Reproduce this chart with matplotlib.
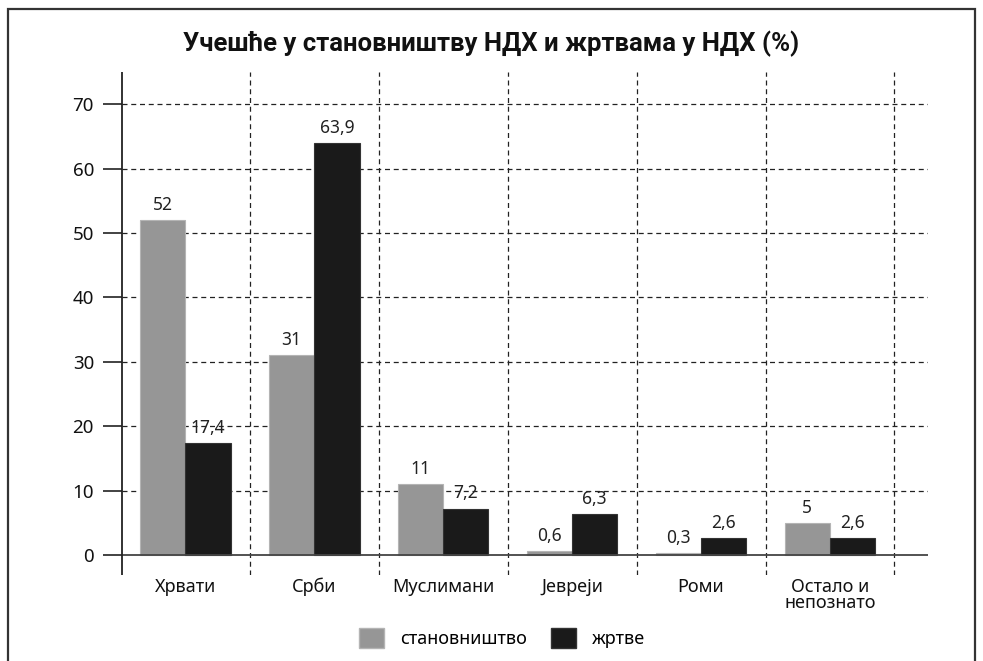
import matplotlib
matplotlib.use("Agg")
import matplotlib.pyplot as plt
from matplotlib.patches import Rectangle, Patch
import numpy as np

plt.rcParams["font.family"] = ["Noto Sans", "DejaVu Sans"]

categories = ["Хрвати", "Срби", "Муслимани", "Јевреји", "Роми", "Остало и\nнепознато"]
population = [52, 31, 11, 0.6, 0.3, 5]
victims = [17.4, 63.9, 7.2, 6.3, 2.6, 2.6]
series_names = ["становништво", "жртве"]
yticks = [0, 10, 20, 30, 40, 50, 60, 70]
title = "Учешће у становништву НДХ и жртвама у НДХ (%)"

GREY = "#969696"
BLACK = "#1a1a1a"
W = 0.352

def fmt(v):
    return f"{v:g}".replace(".", ",")

fig = plt.figure(figsize=(9.83, 6.61), dpi=100)
# axes: left 103px, right 928px, top 72px, bottom 575px
ax = fig.add_axes([103 / 983, 1 - 575 / 661, (928 - 103) / 983, (575 - 72) / 661])
x = np.arange(len(categories))
ax_x = -0.49
ax.set_xlim(-0.637, 5.76)
ax.set_ylim(-3.1, 75)

# grid
for t in yticks[1:]:
    ax.plot([ax_x, 5.76], [t, t], ls=(0, (4, 3)), color="#222", lw=0.9, zorder=1)
for xs in x + 0.5:
    ax.plot([xs, xs], [-3.1, 75], ls=(0, (4, 3)), color="#222", lw=0.9, zorder=1)
for t in yticks:
    ax.plot([-0.637, ax_x], [t, t], color="#222", lw=1.2, zorder=3, solid_capstyle="butt")
ax.plot([ax_x, 5.76], [0, 0], color="#444", lw=1.3, zorder=3)
ax.plot([ax_x, ax_x], [-3.1, 75], color="#222", lw=1.3, zorder=3)

b1 = ax.bar(x - W / 2, population, W, color=GREY, edgecolor="#b4b4b4", lw=0.8, zorder=2)
b2 = ax.bar(x + W / 2, victims, W, color=BLACK, edgecolor="#333", lw=0.8, zorder=2)
for bars, vals in ((b1, population), (b2, victims)):
    for b, v in zip(bars, vals):
        ax.annotate(fmt(v), (b.get_x() + b.get_width() / 2, v), xytext=(0, 4.5),
                    textcoords="offset points", ha="center", va="bottom",
                    fontsize=12.5, color="#222")

for s in ax.spines.values():
    s.set_visible(False)
ax.set_xticks(x)
ax.set_xticklabels(categories, fontsize=13, linespacing=0.9)
ax.set_yticks(yticks)
ax.set_yticklabels([str(t) for t in yticks], fontsize=13.5)
ax.tick_params(axis="both", length=0, colors="#111")
ax.tick_params(axis="x", pad=2)
ax.tick_params(axis="y", pad=6.5)
ax.set_facecolor("none")

fig.text(0.5, 1 - 44 / 661, title, ha="center", va="center",
         family=["Roboto", "DejaVu Sans"], fontsize=18.5, fontweight="bold", color="#111")

handles = [Patch(facecolor=GREY, edgecolor="#b4b4b4"), Patch(facecolor=BLACK, edgecolor="#333")]
fig.legend(handles, series_names, loc="center", bbox_to_anchor=(502 / 983, 1 - 638 / 661),
           ncol=2, frameon=False, fontsize=13, handlelength=1.4, handleheight=1.4,
           columnspacing=1.3, handletextpad=0.9)

fig.patches.append(Rectangle((8 / 983, -0.1), (975 - 8) / 983, 1.1 - 9 / 661,
                             transform=fig.transFigure, fill=False, ec="#333", lw=1.6))

fig.savefig("out.png", dpi=100, facecolor="white")
